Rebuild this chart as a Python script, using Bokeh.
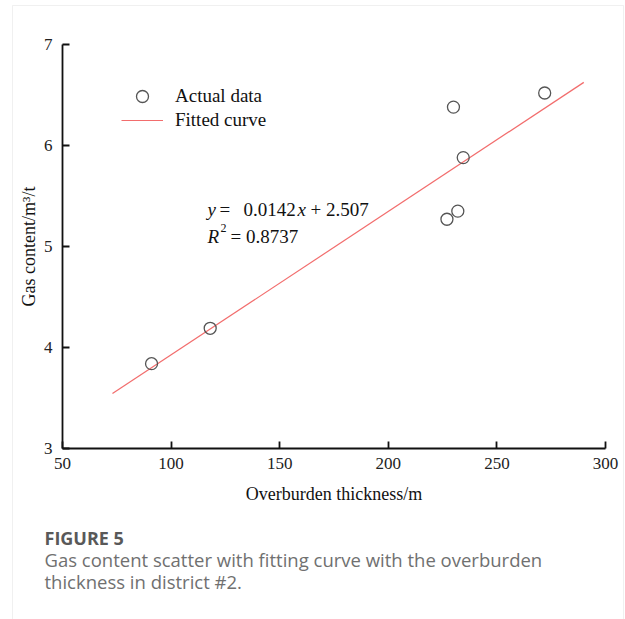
from bokeh.plotting import figure
from bokeh.models import (Range1d, FixedTicker, Label, Legend, LegendItem,
                          BoxAnnotation, ColumnDataSource)
from bokeh.embed import file_html
from bokeh.resources import INLINE

# Measured gas content against overburden thickness (district #2)
thickness = [91, 118, 227, 232, 230, 234.5, 272]
gas_content = [3.84, 4.19, 5.27, 5.35, 6.38, 5.88, 6.52]

# Linear fit y = slope * x + intercept and the span it is drawn over
slope = 0.0142
intercept = 2.507
r_squared = 0.8737
fit_span = [73, 290]

x_ticks = [50, 100, 150, 200, 250, 300]
y_ticks = [3, 4, 5, 6, 7]

SERIF = "Liberation Serif"
SANS = "Open Sans"

W, H = 625, 619
# plot area in canvas pixels: x 50..300 -> 62..605, y 7..3 -> 44..448
PX_L, PX_R, PX_T, PX_B = 62, 605, 44, 448
x_per_px = (300 - 50) / (PX_R - PX_L)
y_per_px = (7 - 3) / (PX_B - PX_T)
x_range = Range1d(50 - PX_L * x_per_px, 300 + (W - PX_R) * x_per_px)
y_range = Range1d(3 - (H - PX_B) * y_per_px, 7 + PX_T * y_per_px)

fit_x = fit_span
fit_y = [slope * v + intercept for v in fit_span]

p = figure(width=W, height=H, output_backend="svg", toolbar_location=None,
           x_range=x_range, y_range=y_range, min_border=0)
p.background_fill_color = "white"
p.border_fill_color = "white"
p.outline_line_color = None
p.xgrid.visible = False
p.ygrid.visible = False

p.xaxis.fixed_location = 3
p.xaxis.bounds = (50, 300)
p.yaxis.fixed_location = 50
p.yaxis.bounds = (3, 7)

for ax, ticks in ((p.xaxis, x_ticks), (p.yaxis, y_ticks)):
    ax.ticker = FixedTicker(ticks=ticks)
    ax.minor_tick_line_color = None
    ax.major_tick_in = 7
    ax.major_tick_out = 0
    ax.axis_line_width = 1.8
    ax.major_tick_line_width = 1.8
    ax.axis_line_color = "#111111"
    ax.major_tick_line_color = "#111111"
    ax.major_label_text_font = SERIF
    ax.major_label_text_font_size = "17px"
    ax.major_label_text_color = "#222222"
    ax.axis_label_text_font = SERIF
    ax.axis_label_text_font_size = "18px"
    ax.axis_label_text_font_style = "normal"
    ax.axis_label_text_color = "#111111"

p.xaxis.axis_label = "Overburden thickness/m"
p.yaxis.axis_label = "Gas content/m\u00b3/t"
p.xaxis.major_label_standoff = 9
p.yaxis.major_label_standoff = 10
p.xaxis.axis_label_standoff = 12
p.yaxis.axis_label_standoff = 2

src = ColumnDataSource(data=dict(x=thickness, y=gas_content))
fit_line = p.line(fit_x, fit_y, line_color="#f26d6d", line_width=1.2)
pts = p.scatter("x", "y", source=src, marker="circle", size=12,
                fill_color=None, line_color="#555555", line_width=1.3)

legend_style = dict(orientation="vertical", glyph_width=42, label_standoff=12,
                    spacing=0, padding=0, margin=0,
                    border_line_alpha=0, background_fill_alpha=0,
                    label_text_font=SERIF, label_text_font_size="19px",
                    label_text_color="#111111")
p.add_layout(Legend(items=[LegendItem(label="Actual data", renderers=[pts])],
                    location=(121, H - 111), glyph_height=30, label_height=30,
                    **legend_style), "center")
p.add_layout(Legend(items=[LegendItem(label="Fitted curve", renderers=[fit_line])],
                    location=(121, H - 131), glyph_height=20, label_height=20,
                    **legend_style), "center")

# Fit equation and goodness of fit
eq_x = 116.8
row1 = 5.37
row2 = 5.10
eq_style = dict(text_font=SERIF, text_color="#111111", text_baseline="alphabetic")
parts = [
    ("y", 0, row1, 0, "italic", "19px"),
    ("=", 12, row1, 0, "normal", "19px"),
    (f"{slope:.4f}", 36, row1, 0, "normal", "19px"),
    ("x", 90, row1, 0, "italic", "19px"),
    (f"+ {intercept:.3f}", 103, row1, 0, "normal", "19px"),
    ("R", 0, row2, 0, "italic", "19px"),
    ("2", 13, row2, 8, "normal", "12px"),
    (f"= {r_squared:.4f}", 23, row2, 0, "normal", "19px"),
]
for txt, dx, yy, dy, style, size in parts:
    p.add_layout(Label(x=eq_x, y=yy, x_offset=dx, y_offset=dy, text=txt,
                       text_font_style=style, text_font_size=size, **eq_style))

# Card frame and figure caption below the chart (canvas pixel units)
p.add_layout(BoxAnnotation(left=12, right=623, top=5, bottom=700,
                           left_units="canvas", right_units="canvas",
                           top_units="canvas", bottom_units="canvas",
                           fill_alpha=0, line_color="#cccccc", line_width=1))

caption = [
    ("FIGURE 5", 537, "bold", "#595959", "18px"),
    ("Gas content scatter with fitting curve with the overburden", 559, "normal", "#707070", "18.5px"),
    ("thickness in district #2.", 581, "normal", "#707070", "18.5px"),
]
for txt, sy, style, color, size in caption:
    p.add_layout(Label(x=44, y=sy, x_units="canvas", y_units="canvas",
                       text=txt, text_font=SANS, text_font_size=size,
                       text_font_style=style, text_color=color,
                       text_baseline="middle"))

open("out.html", "w").write(file_html(p, INLINE))
